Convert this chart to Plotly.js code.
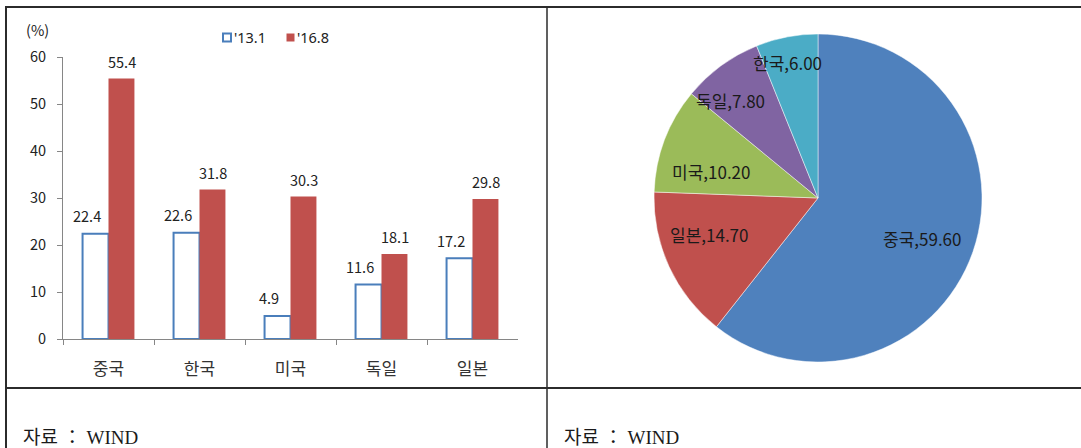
<!DOCTYPE html>
<html>
<head>
<meta charset="utf-8">
<script src="https://cdn.plot.ly/plotly-3.0.1.min.js"></script>
<style>
  html, body { margin: 0; padding: 0; background: #ffffff; }
  #chart { width: 1081px; height: 448px; }
</style>
</head>
<body>
<div id="chart"></div>
<script>
// Left panel: share by country, two periods (%)
const countries = ['중국', '한국', '미국', '독일', '일본'];
const seriesNames = ["'13.1", "'16.8"];
const values2013 = [22.4, 22.6, 4.9, 11.6, 17.2];
const values2016 = [55.4, 31.8, 30.3, 18.1, 29.8];
const yTicks = [0, 10, 20, 30, 40, 50, 60];

// Right panel: pie shares
const pieLabels = ['중국', '일본', '미국', '독일', '한국'];
const pieValues = [59.60, 14.70, 10.20, 7.80, 6.00];

const sourceNote = '자료 ： WIND';

// ---- layout helpers (page is 1081 x 448, no margins, so paper = pixels) ----
const W = 1081, H = 448;
const px = x => x / W;
const py = y => 1 - y / H;

const SANS = '"Noto Sans CJK KR", "Noto Sans", sans-serif';
const LATIN = '"Noto Sans", "Noto Sans CJK KR", sans-serif';
const SERIF = '"Liberation Serif", "Noto Sans CJK KR", serif';
const BLUE_EDGE = '#4a7ebb';
const RED = '#c0504d';
const AXIS = '#868686';
const pieColors = ['#4f81bd', '#c0504d', '#9bbb59', '#8064a2', '#4bacc6'];

// pie geometry (pixels)
const pieCx = 818, pieCy = 198, pieR = 164;
// label placement inside the pie: radius fraction and angular nudge (deg)
const pieLabelRadius = [0.68, 0.70, 0.67, 0.80, 0.845];
const pieLabelNudge = [1.9, 6.4, -7.0, -5.8, -1.9];

const traces = [
  {
    type: 'bar',
    name: seriesNames[0],
    x: countries,
    y: values2013,
    xaxis: 'x', yaxis: 'y',
    marker: { color: '#ffffff', line: { color: BLUE_EDGE, width: 2 } },
    hoverinfo: 'x+y',
    showlegend: false
  },
  {
    type: 'bar',
    name: seriesNames[1],
    x: countries,
    y: values2016,
    xaxis: 'x', yaxis: 'y',
    marker: { color: RED, line: { color: RED, width: 0 } },
    hoverinfo: 'x+y',
    showlegend: false
  },
  {
    type: 'pie',
    labels: pieLabels,
    values: pieValues,
    sort: false,
    direction: 'clockwise',
    rotation: 0,
    textinfo: 'none',
    marker: { colors: pieColors, line: { color: 'rgba(255,255,255,0.6)', width: 0.8 } },
    domain: {
      x: [px(pieCx - pieR), px(pieCx + pieR)],
      y: [py(pieCy + pieR), py(pieCy - pieR)]
    },
    showlegend: false,
    hoverinfo: 'label+value'
  }
];

const annotations = [];

// value labels above the bars
countries.forEach((c, i) => {
  annotations.push({
    x: c, y: values2013[i], xref: 'x', yref: 'y',
    text: values2013[i].toFixed(1), showarrow: false,
    xshift: -22, yshift: 18, yanchor: 'middle',
    font: { family: SANS, size: 14.5, color: '#222222' }
  });
  annotations.push({
    x: c, y: values2016[i], xref: 'x', yref: 'y',
    text: values2016[i].toFixed(1), showarrow: false,
    xshift: 13, yshift: 17, yanchor: 'middle',
    font: { family: SANS, size: 14.5, color: '#222222' }
  });
});

// unit label
annotations.push({
  x: px(37.5), y: py(30), xref: 'paper', yref: 'paper',
  text: '(%)', showarrow: false, xanchor: 'center', yanchor: 'middle',
  font: { family: SANS, size: 14.5, color: '#222222' }
});

// legend entries
const legendText = [
  { x: 232, name: seriesNames[0] },
  { x: 295, name: seriesNames[1] }
];
legendText.forEach(l => {
  annotations.push({
    x: px(l.x), y: py(37), xref: 'paper', yref: 'paper',
    text: l.name, showarrow: false, xanchor: 'left', yanchor: 'middle',
    font: { family: LATIN, size: 14.5, color: '#222222' }
  });
});

// pie labels, placed from each slice's mid angle
const total = pieValues.reduce((a, b) => a + b, 0);
let cum = 0;
pieValues.forEach((v, i) => {
  const mid = (cum + v / 2) / total * 360 + pieLabelNudge[i];
  cum += v;
  const rad = mid * Math.PI / 180;
  const r = pieR * pieLabelRadius[i];
  const lx = pieCx + r * Math.sin(rad);
  const ly = pieCy - r * Math.cos(rad);
  annotations.push({
    x: px(lx), y: py(ly), xref: 'paper', yref: 'paper',
    text: pieLabels[i] + ',' + v.toFixed(2), showarrow: false,
    xanchor: 'center', yanchor: 'middle',
    font: { family: SANS, size: 17, color: '#1a1a1a' }
  });
});

// source notes
[21, 562].forEach(x => {
  annotations.push({
    x: px(x), y: py(437), xref: 'paper', yref: 'paper',
    text: sourceNote, showarrow: false, xanchor: 'left', yanchor: 'middle',
    font: { family: SERIF, size: 19, color: '#1a1a1a' }
  });
});

// table frame and legend swatches
const LINE = { color: '#2b2b2b', width: 2 };
const shapes = [
  { type: 'line', xref: 'paper', yref: 'paper', x0: px(5), x1: 1, y0: py(7), y1: py(7), line: LINE },
  { type: 'line', xref: 'paper', yref: 'paper', x0: px(6), x1: px(6), y0: py(6), y1: 0, line: LINE },
  { type: 'line', xref: 'paper', yref: 'paper', x0: px(547), x1: px(547), y0: py(7), y1: 0, line: { color: '#2b2b2b', width: 1.5 } },
  { type: 'line', xref: 'paper', yref: 'paper', x0: px(6), x1: 1, y0: py(388), y1: py(388), line: LINE },
  { type: 'rect', xref: 'paper', yref: 'paper', x0: px(223), x1: px(231), y0: py(41.5), y1: py(33.5),
    fillcolor: '#ffffff', line: { color: BLUE_EDGE, width: 2 } },
  { type: 'rect', xref: 'paper', yref: 'paper', x0: px(286.5), x1: px(294.5), y0: py(41.5), y1: py(33.5),
    fillcolor: RED, line: { width: 0 } }
];

const layout = {
  width: W, height: H,
  margin: { l: 0, r: 0, t: 0, b: 0, pad: 0 },
  paper_bgcolor: '#ffffff',
  plot_bgcolor: '#ffffff',
  showlegend: false,
  barmode: 'group',
  bargap: 0.43,
  bargroupgap: 0,
  xaxis: {
    domain: [px(63), px(518)],
    anchor: 'y',
    type: 'category',
    categoryorder: 'array',
    categoryarray: countries,
    range: [-0.5, 4.5],
    showline: true, linecolor: AXIS, linewidth: 1,
    ticks: 'outside', tickson: 'boundaries', ticklen: 5, tickcolor: AXIS, tickwidth: 1,
    ticklabelstandoff: 15,
    showgrid: false, zeroline: false,
    tickfont: { family: SANS, size: 17, color: '#333333' },
    fixedrange: true
  },
  yaxis: {
    domain: [py(339), py(57)],
    anchor: 'x',
    range: [0, 60],
    tickvals: yTicks,
    ticktext: yTicks.map(String),
    showline: true, linecolor: AXIS, linewidth: 1,
    ticks: 'outside', ticklen: 5, tickcolor: AXIS, tickwidth: 1,
    ticklabelstandoff: 8,
    showgrid: false, zeroline: false,
    tickfont: { family: SANS, size: 14.5, color: '#222222' },
    fixedrange: true
  },
  annotations: annotations,
  shapes: shapes
};

Plotly.newPlot('chart', traces, layout, { staticPlot: true, displayModeBar: false });
</script>
</body>
</html>
